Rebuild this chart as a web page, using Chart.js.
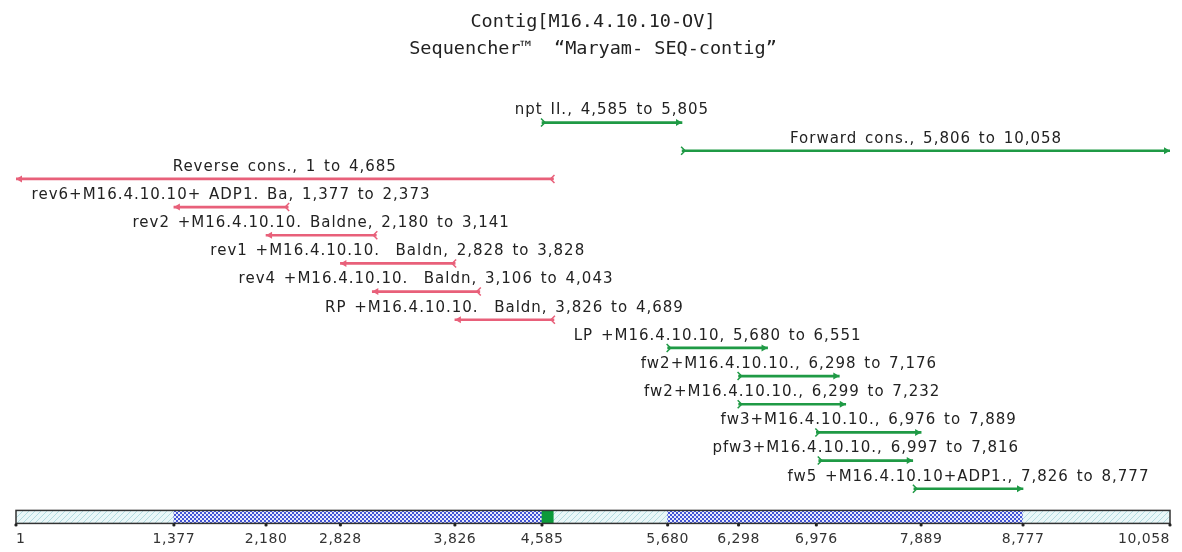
<!DOCTYPE html>
<html>
<head>
<meta charset="utf-8">
<script src="https://cdn.jsdelivr.net/npm/chart.js@4.4.1/dist/chart.umd.min.js"></script>
<style>
  body { margin: 0; background: #fff; }
</style>
</head>
<body>
<canvas id="contig" width="1182" height="552"></canvas>
<script>
// fragments in the contig, top to bottom
const names = [
  "npt II.",
  "Forward cons.",
  "Reverse cons.",
  "rev6+M16.4.10.10+ ADP1. Ba",
  "rev2 +M16.4.10.10. Baldne",
  "rev1 +M16.4.10.10.  Baldn",
  "rev4 +M16.4.10.10.  Baldn",
  "RP +M16.4.10.10.  Baldn",
  "LP +M16.4.10.10",
  "fw2+M16.4.10.10.",
  "fw2+M16.4.10.10.",
  "fw3+M16.4.10.10.",
  "pfw3+M16.4.10.10.",
  "fw5 +M16.4.10.10+ADP1.",
];
const starts = [4585, 5806, 1, 1377, 2180, 2828, 3106, 3826, 5680, 6298, 6299, 6976, 6997, 7826];
const ends = [5805, 10058, 4685, 2373, 3141, 3828, 4043, 4689, 6551, 7176, 7232, 7889, 7816, 8777];
const strands = ["F", "F", "R", "R", "R", "R", "R", "R", "F", "F", "F", "F", "F", "F"];

// coverage strip at the bottom
const rulerStarts = [1, 1377, 4585, 4689, 5680, 8777];
const rulerEnds = [1377, 4585, 4689, 5680, 8777, 10058];
const rulerKinds = ["low", "high", "npt", "low", "high", "low"];

const tickValues = [1, 1377, 2180, 2828, 3826, 4585, 5680, 6298, 6976, 7889, 8777, 10058];
const titleLines = ["Contig[M16.4.10.10-OV]", "Sequencher\u2122  \u201cMaryam- SEQ-contig\u201d"];

const GREEN = "#1f9a45";
const RED = "#e8607a";
const fmt = (v) => v.toLocaleString("en-US");

const canvas = document.querySelector("#contig");
const ctx = canvas.getContext("2d");

// small canvas patterns for the strip
const makePattern = (kind) => {
  if (kind == "npt") return "#0c9a3a";
  const c = document.createElement("canvas");
  const p = c.getContext("2d");
  if (kind == "low") {
    c.width = 6; c.height = 6;
    p.fillStyle = "#eaf7f8";
    p.fillRect(0, 0, 6, 6);
    p.strokeStyle = "#b3dbe0";
    p.lineWidth = 1;
    p.beginPath();
    p.moveTo(0, 6); p.lineTo(6, 0);
    p.moveTo(-1, 1); p.lineTo(1, -1);
    p.moveTo(5, 7); p.lineTo(7, 5);
    p.stroke();
  } else {
    c.width = 4; c.height = 4;
    p.fillStyle = "#e8ebfb";
    p.fillRect(0, 0, 4, 4);
    p.fillStyle = "#4254d6";
    p.fillRect(0, 0, 2, 2);
    p.fillRect(2, 2, 2, 2);
  }
  return ctx.createPattern(c, "repeat");
};

const rowLabels = names.concat(["ruler"]);
const segData = starts.map((s, i) => [s, ends[i]]);
const rulerData = rulerStarts.map((s, i) => ({ x: [s, rulerEnds[i]], y: "ruler" }));

const mapPlugin = {
  id: "mapPlugin",
  afterDatasetsDraw(chart) {
    const c = chart.ctx;
    const xs = chart.scales.x;
    c.save();

    // arrows + labels
    const meta = chart.getDatasetMeta(0);
    names.forEach((name, i) => {
      const bar = meta.data[i];
      const a = Math.min(bar.base, bar.x);
      const b = Math.max(bar.base, bar.x);
      const y = bar.y;
      const col = strands[i] == "F" ? GREEN : RED;
      c.fillStyle = col;
      c.strokeStyle = col;
      c.lineWidth = 1.5;
      let head, tail, dir;
      if (strands[i] == "F") { head = b; tail = a; dir = 1; }
      else { head = a; tail = b; dir = -1; }
      c.beginPath();
      c.moveTo(head, y);
      c.lineTo(head - dir * 6, y - 3.5);
      c.lineTo(head - dir * 6, y + 3.5);
      c.closePath();
      c.fill();
      c.beginPath();
      c.moveTo(tail - dir * 1, y - 4);
      c.lineTo(tail + dir * 3, y);
      c.lineTo(tail - dir * 1, y + 4);
      c.stroke();

      c.fillStyle = "#222";
      c.font = '15px "DejaVu Sans"';
      c.letterSpacing = "1px";
      c.wordSpacing = "2px";
      c.textAlign = "center";
      c.textBaseline = "middle";
      c.fillText(name + ", " + fmt(starts[i]) + " to " + fmt(ends[i]), (a + b) / 2, y - 12);
    });

    // strip outline, tick dots, tick labels
    const rmeta = chart.getDatasetMeta(1);
    const ry = rmeta.data[0].y;
    const left = xs.getPixelForValue(rulerStarts[0]);
    const right = xs.getPixelForValue(rulerEnds[rulerEnds.length - 1]);
    c.strokeStyle = "#333";
    c.lineWidth = 1.5;
    c.strokeRect(left, ry - 6.5, right - left, 13);

    c.font = '14px "DejaVu Sans"';
    c.letterSpacing = "0.5px";
    c.wordSpacing = "0px";
    c.textBaseline = "middle";
    tickValues.forEach((v, k) => {
      const px = xs.getPixelForValue(v);
      c.fillStyle = "#222";
      c.beginPath();
      c.arc(px, ry + 8, 1.6, 0, Math.PI * 2);
      c.fill();
      c.fillStyle = "#333";
      c.textAlign = k == 0 ? "left" : (k == tickValues.length - 1 ? "right" : "center");
      c.fillText(fmt(v), px, ry + 22);
    });
    c.restore();
  },
};

new Chart(ctx, {
  type: "bar",
  data: {
    labels: rowLabels,
    datasets: [
      {
        data: segData,
        backgroundColor: strands.map((s) => (s == "F" ? GREEN : RED)),
        barThickness: 2,
        grouped: false,
        borderSkipped: false,
      },
      {
        data: rulerData,
        backgroundColor: rulerKinds.map(makePattern),
        barThickness: 13,
        grouped: false,
        borderSkipped: false,
      },
    ],
  },
  options: {
    indexAxis: "y",
    responsive: false,
    animation: false,
    events: [],
    layout: { padding: { left: 16, right: 12, top: 0, bottom: 21 } },
    scales: {
      x: { type: "linear", min: 1, max: 10058, display: false },
      y: { type: "category", display: false },
    },
    plugins: {
      legend: { display: false },
      tooltip: { enabled: false },
      title: {
        display: true,
        text: titleLines,
        color: "#222",
        font: { family: '"DejaVu Sans Mono"', size: 18.5, weight: "normal", lineHeight: 1.5 },
        padding: { top: 8, bottom: 45 },
      },
    },
  },
  plugins: [mapPlugin],
});
</script>
</body>
</html>
